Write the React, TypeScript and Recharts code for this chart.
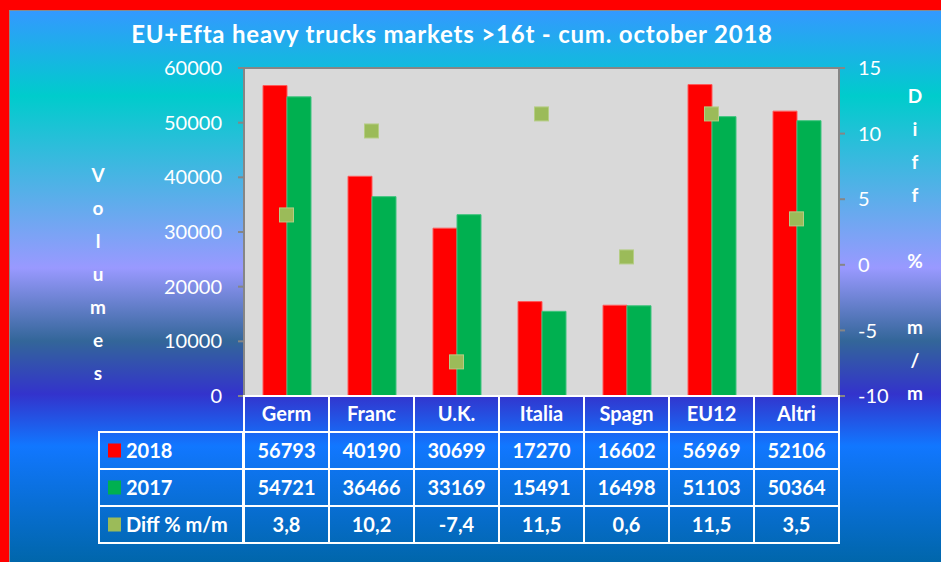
import React from "react";
import {
  Bar,
  CartesianGrid,
  ComposedChart,
  Line,
  XAxis,
  YAxis,
} from "recharts";

const categories = ["Germ", "Franc", "U.K.", "Italia", "Spagn", "EU12", "Altri"];
const volumes2018 = [56793, 40190, 30699, 17270, 16602, 56969, 52106];
const volumes2017 = [54721, 36466, 33169, 15491, 16498, 51103, 50364];
const diffPct = [3.8, 10.2, -7.4, 11.5, 0.6, 11.5, 3.5];
const leftTicks = [0, 10000, 20000, 30000, 40000, 50000, 60000];
const rightTicks = [-10, -5, 0, 5, 10, 15];
const leftTitle = "Volumes";
const rightTitle = "Diff % m/m";

const data = categories.map((name, i) => ({
  name,
  y2018: volumes2018[i],
  y2017: volumes2017[i],
  diff: diffPct[i],
}));

const W = 941;
const H = 562;
const PLOT_L = 244;
const PLOT_R = 839;
const PLOT_T = 68;
const PLOT_B = 396;
const COL_W = (PLOT_R - PLOT_L) / categories.length;
const ROWS = [PLOT_B, 432, 469, 506, 543];
const TABLE_L = 99;
const FONT = "Lato, 'Open Sans', sans-serif";

const fmtDiff = (v: number) => v.toFixed(1).replace(".", ",");

const rowDefs = [
  { label: "2018", color: "#ff0000", values: volumes2018.map(String) },
  { label: "2017", color: "#00b050", values: volumes2017.map(String) },
  { label: "Diff % m/m", color: "#9bbb59", values: diffPct.map(fmtDiff) },
];

function TableColumn(props: any) {
  const { x, payload } = props;
  const i = payload.index;
  const x0 = x - COL_W / 2;
  const cells = [categories[i], ...rowDefs.map((r) => r.values[i])];
  return (
    <g>
      {cells.map((t, r) => (
        <g key={r}>
          <rect
            x={x0}
            y={ROWS[r]}
            width={COL_W}
            height={ROWS[r + 1] - ROWS[r]}
            fill="none"
            stroke="#ffffff"
            strokeWidth={2}
          />
          <text
            x={x}
            y={(ROWS[r] + ROWS[r + 1]) / 2 + 7}
            textAnchor="middle"
            fill="#ffffff"
            fontFamily={FONT}
            fontWeight="bold"
            fontSize={20}
          >
            {t}
          </text>
        </g>
      ))}
    </g>
  );
}

const Square = (props: any) => {
  const { cx, cy, index } = props;
  if (cx == null || cy == null) return <g key={index} />;
  return (
    <rect
      key={index}
      x={cx - 7}
      y={cy - 7}
      width={14}
      height={14}
      fill="#9bbb59"
      stroke="#b5cd85"
      strokeWidth={1}
    />
  );
};

export default function App() {
  return (
    <div
      style={{
        position: "absolute",
        left: 0,
        top: 0,
        width: W,
        height: H,
        background: "#ff0000",
        overflow: "hidden",
      }}
    >
      <div
        style={{
          position: "absolute",
          left: 9,
          top: 10,
          width: W - 9,
          height: H - 10,
          borderLeft: "1px solid #8a8a8a",
          borderTop: "1px solid #8a8a8a",
          background:
            "linear-gradient(to bottom, #3399ff 0px, #00cccc 85px, #9999ff 257px, #336699 330px, #3333cc 383px, #1177ff 435px, #0066aa 552px)",
        }}
      />
      <div style={{ position: "absolute", left: 0, top: 0 }}>
        <ComposedChart
          width={W}
          height={H}
          data={data}
          margin={{ top: PLOT_T, right: W - PLOT_R - 80, bottom: 16, left: PLOT_L - 80 }}
          barGap={0}
        >
          <CartesianGrid
            vertical={false}
            stroke="#868686"
            strokeWidth={2}
            fill="#d9d9d9"
            fillOpacity={1}
          />
          <XAxis
            dataKey="name"
            height={H - 16 - PLOT_B}
            axisLine={false}
            tickLine={false}
            interval={0}
            tick={<TableColumn />}
          />
          <YAxis
            yAxisId="l"
            width={80}
            domain={[0, 60000]}
            ticks={leftTicks}
            interval={0}
            axisLine={{ stroke: "#868686", strokeWidth: 2 }}
            tickLine={{ stroke: "#868686", strokeWidth: 2 }}
            tickSize={6}
            tickMargin={16}
            tick={{ fill: "#ffffff", fontFamily: FONT, fontSize: 20 }}
          />
          <YAxis
            yAxisId="r"
            orientation="right"
            width={80}
            domain={[-10, 15]}
            ticks={rightTicks}
            interval={0}
            axisLine={{ stroke: "#868686", strokeWidth: 2 }}
            tickLine={{ stroke: "#868686", strokeWidth: 2 }}
            tickSize={6}
            tickMargin={13}
            tick={{ fill: "#ffffff", fontFamily: FONT, fontSize: 20 }}
          />
          <Bar yAxisId="l" dataKey="y2018" fill="#ff0000" stroke="#ff5a5a" strokeWidth={1} barSize={24} isAnimationActive={false} />
          <Bar yAxisId="l" dataKey="y2017" fill="#00b050" stroke="#3fc47e" strokeWidth={1} barSize={24} isAnimationActive={false} />
          <Line
            yAxisId="r"
            dataKey="diff"
            stroke="none"
            dot={Square}
            activeDot={false}
            isAnimationActive={false}
          />
        </ComposedChart>
      </div>
      <svg
        width={W}
        height={H}
        style={{ position: "absolute", left: 0, top: 0, pointerEvents: "none" }}
      >
        <text
          x={452}
          y={43}
          textAnchor="middle"
          fill="#ffffff"
          fontFamily={FONT}
          fontWeight="bold"
          fontSize={24}
          letterSpacing={0.8}
        >
          EU+Efta heavy trucks markets &gt;16t - cum. october 2018
        </text>
        {leftTitle.split("").map((c, i) => (
          <text key={"l" + i} x={98} y={182 + i * 33} textAnchor="middle" fill="#ffffff" fontFamily={FONT} fontWeight="bold" fontSize={19}>
            {c}
          </text>
        ))}
        {rightTitle.split("").map((c, i) => (
          <text key={"r" + i} x={915} y={103 + i * 33} textAnchor="middle" fill="#ffffff" fontFamily={FONT} fontWeight="bold" fontSize={19}>
            {c}
          </text>
        ))}
        {rowDefs.map((r, k) => (
          <g key={r.label}>
            <rect
              x={TABLE_L}
              y={ROWS[k + 1]}
              width={PLOT_L - 1 - TABLE_L}
              height={ROWS[k + 2] - ROWS[k + 1]}
              fill="none"
              stroke="#ffffff"
              strokeWidth={2}
            />
            <rect x={108} y={(ROWS[k + 1] + ROWS[k + 2]) / 2 - 7} width={13} height={14} fill={r.color} />
            <text
              x={126}
              y={(ROWS[k + 1] + ROWS[k + 2]) / 2 + 7}
              fill="#ffffff"
              fontFamily={FONT}
              fontWeight="bold"
              fontSize={20}
            >
              {r.label}
            </text>
          </g>
        ))}
      </svg>
    </div>
  );
}
